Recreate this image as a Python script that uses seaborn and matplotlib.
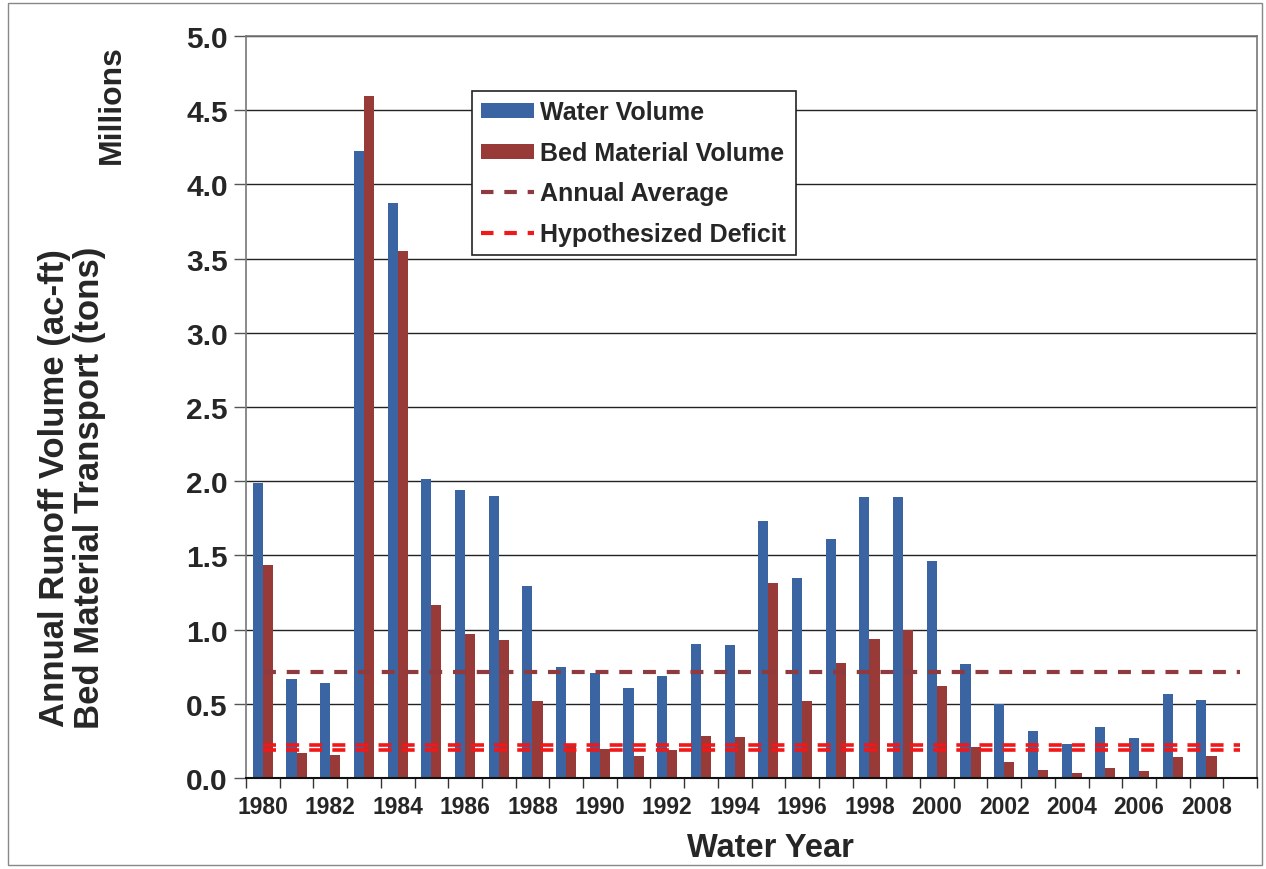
import numpy as np
import pandas as pd
import seaborn as sns
import matplotlib.pyplot as plt
from matplotlib.patches import Patch, Rectangle
from matplotlib.lines import Line2D

years = list(range(1980, 2009))
axis_years = [str(y) for y in range(1980, 2010)]
water_volume = [1.99, 0.667, 0.64, 4.223, 3.873, 2.015, 1.94, 1.90, 1.296, 0.75,
                0.71, 0.606, 0.69, 0.903, 0.896, 1.734, 1.346, 1.613, 1.896, 1.896,
                1.464, 0.766, 0.497, 0.315, 0.23, 0.346, 0.27, 0.568, 0.523]
bed_volume = [1.437, 0.17, 0.155, 4.598, 3.549, 1.168, 0.97, 0.932, 0.519, 0.22,
              0.195, 0.15, 0.19, 0.285, 0.278, 1.316, 0.521, 0.773, 0.934, 0.999,
              0.622, 0.21, 0.11, 0.056, 0.034, 0.065, 0.047, 0.141, 0.148]
annual_average = 0.712
hypothesized_deficit = [0.222, 0.186]

water_color = "#3A64A2"
bed_color = "#983A37"
avg_color = "#8E3A3E"
deficit_color = "#F01818"

df = pd.DataFrame({
    "year": [str(y) for y in years] * 2,
    "value": water_volume + bed_volume,
    "series": ["Water Volume"] * len(years) + ["Bed Material Volume"] * len(years),
})

sns.set_style("white")
plt.rcParams["font.family"] = ["Liberation Sans", "DejaVu Sans"]
plt.rcParams["font.weight"] = "bold"

fig = plt.figure(figsize=(12.66, 8.70), dpi=100)
ax = fig.add_axes([246 / 1266, 1 - 779 / 870, 1011 / 1266, 742 / 870])

sns.barplot(data=df, x="year", y="value", hue="series", order=axis_years,
            hue_order=["Water Volume", "Bed Material Volume"],
            palette=[water_color, bed_color], saturation=1, width=0.6,
            linewidth=0, errorbar=None, legend=False, ax=ax)

# average and deficit lines run from the first to the last category centre
n = len(axis_years)
ax.plot([0, n - 1], [annual_average] * 2, color=avg_color, lw=3,
        linestyle=(0, (3.1, 2.6)), zorder=3)
for d in hypothesized_deficit:
    ax.plot([0, n - 1], [d, d], color=deficit_color, lw=2.6,
            linestyle=(0, (3.6, 2.8)), zorder=3)

ax.set_xlim(-0.5, n - 0.5)
ax.set_ylim(0, 5.0)
ax.set_yticks(np.arange(0, 5.01, 0.5))
ax.set_yticklabels([f"{v:.1f}" for v in np.arange(0, 5.01, 0.5)],
                   fontsize=21.5, fontweight="bold")
ax.yaxis.grid(True, color="#222222", lw=1)
ax.set_axisbelow(True)

ax.set_xticks(range(0, n, 2))
ax.set_xticklabels(axis_years[::2], fontsize=16.5, fontweight="bold")
ax.set_xticks(np.arange(-0.5, n, 1), minor=True)
ax.tick_params(axis="x", which="major", length=0, pad=12)
ax.tick_params(axis="x", which="minor", length=7, width=1, color="#333333",
               direction="out", bottom=True)
ax.tick_params(axis="y", length=9, width=1, color="#555555", direction="out",
               left=True, pad=4)
ax.set_xlabel("")
ax.set_ylabel("")

for side in ["left", "top", "right"]:
    ax.spines[side].set_color("#777777")
    ax.spines[side].set_linewidth(1.2)
ax.spines["bottom"].set_color("#111111")
ax.spines["bottom"].set_linewidth(1.5)

handles = [
    Patch(facecolor=water_color, edgecolor="none"),
    Patch(facecolor=bed_color, edgecolor="none"),
    Line2D([], [], color=avg_color, lw=3, linestyle=(0, (3.0, 2.6))),
    Line2D([], [], color=deficit_color, lw=3, linestyle=(0, (3.0, 2.6))),
]
labels = ["Water Volume", "Bed Material Volume", "Annual Average", "Hypothesized Deficit"]
leg = ax.legend(handles, labels, loc="upper left", bbox_to_anchor=(0.2235, 0.926),
                frameon=True, fancybox=False, framealpha=1, edgecolor="#222222",
                prop={"size": 18, "weight": "bold"}, handlelength=2.1,
                handleheight=0.55, handletextpad=0.25, labelspacing=0.66,
                borderpad=0.38, borderaxespad=0)
leg.get_frame().set_linewidth(1.2)

fig.text(112 / 1266, 1 - 105 / 870, "Millions", rotation=90, ha="center",
         va="center", fontsize=23, fontweight="bold")
fig.text(72 / 1266, 1 - 488 / 870,
         "Annual Runoff Volume (ac-ft)\nBed Material Transport (tons)",
         rotation=90, ha="center", va="center", multialignment="center",
         fontsize=25, fontweight="bold", linespacing=1.05)
fig.text(770 / 1266, 1 - 849 / 870, "Water Year", ha="center", va="center",
         fontsize=23.5, fontweight="bold")

fig.patches.append(Rectangle((8 / 1266, 4 / 870), 1254 / 1266, 862 / 870,
                             transform=fig.transFigure, fill=False,
                             edgecolor="#888888", lw=1))

fig.savefig("out.png", dpi=100)
